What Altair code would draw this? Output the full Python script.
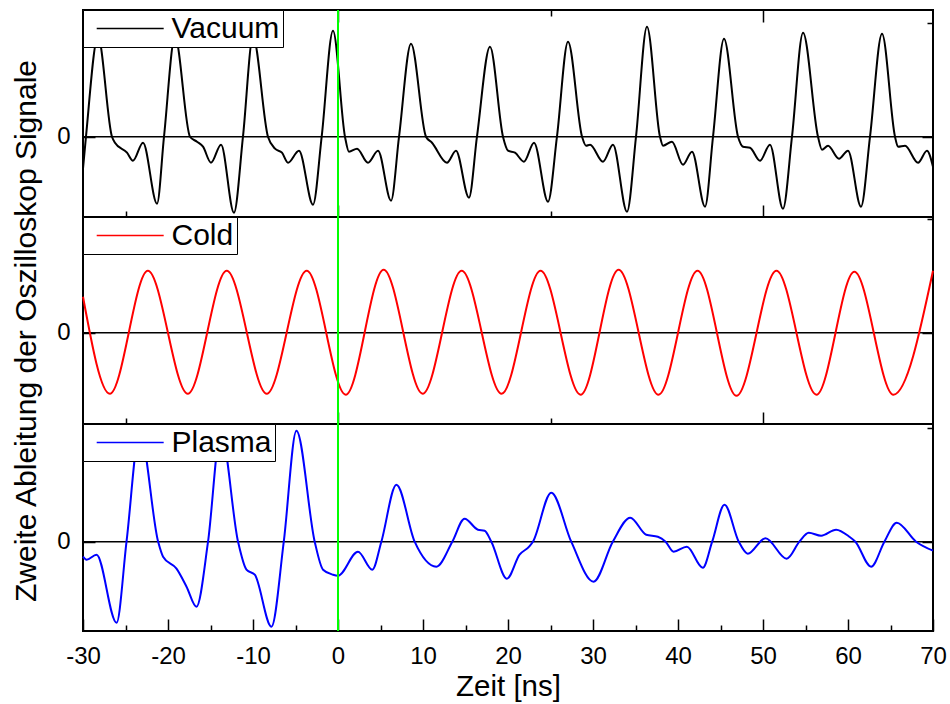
import altair as alt
import pandas as pd

FONT = "Liberation Sans"

# ---------------- data (time in ns, second derivative in arbitrary units) ----------------
VAC_T = [-30.0, -29.65, -28.24, -26.59, -26.24, -24.82, -24.12, -22.94, -21.29,
         -20.47, -19.18, -17.41, -16.59, -15.88, -14.94, -13.76, -12.24,
         -11.18, -10.0, -8.24, -7.41, -6.59, -5.88, -4.59, -2.94,
         -1.92, -0.59, 0.82, 1.29, 2.24, 3.53, 4.71, 6.24,
         7.18, 8.59, 10.35, 11.06, 12.82, 13.88, 15.41,
         16.35, 17.88, 19.41, 20.0, 20.82, 21.88, 23.06, 24.71,
         25.76, 27.06, 28.71, 29.18, 29.65, 31.18, 32.35, 34.0,
         35.06, 36.35, 37.88, 38.24, 39.29, 40.59, 41.65, 43.18,
         44.12, 45.41, 47.06, 47.65, 48.47, 49.65, 50.82, 52.35,
         53.41, 54.71, 56.47, 56.94, 57.65, 58.94, 60.0, 61.53,
         62.59, 64.0, 65.53, 65.88, 66.71, 68.24, 69.29, 70.0]
VAC_V = [-32, 0, 100, 0, -6, -16, -24, -6, -67,
         0, 100, 0, -5, -10, -26, -8, -76,
         0, 100, 0, -12, -16, -26, -14, -68,
         0, 106, 0, -15, -12, -26, -14, -64,
         0, 93, 0, -6, -26, -14, -61,
         0, 90, 0, -14, -16, -25, -6, -65,
         0, 95, 0, -9, -8, -25, -8, -75,
         0, 110, 0, -9, -5, -28, -15, -70,
         0, 98, 0, -10, -11, -24, -8, -72,
         0, 104, 0, -13, -9, -22, -14, -70,
         0, 103, 0, -10, -9, -26, -14, -30]

# Cold: start value and the successive troughs / crests
COLD_T = [-30.0, -26.84, -22.37, -17.67, -13.09, -8.38, -3.68, 0.91, 5.37,
          9.96, 14.55, 19.25, 23.83, 28.54, 33.01, 37.71, 42.30, 46.88,
          51.58, 56.29, 60.75, 65.34, 70.0]
COLD_V = [36, -61, 62, -61, 62, -61, 62, -62, 63,
          -61, 62, -61, 62, -62, 63, -62, 62, -63,
          62, -62, 61, -62, 62]

PLAS_T = [-30.0, -29.58, -28.41, -26.05, -24.88, -23.32, -21.16, -20.58, -19.0,
          -17.82, -16.65, -15.29, -13.79, -11.76, -10.77, -9.79, -7.83, -6.38,
          -4.89, -2.74, -1.76, -0.59, 0.0, 2.35, 4.04, 5.10, 6.87, 9.02, 11.57,
          13.45, 14.89, 16.46, 17.25, 18.04, 19.87, 21.36, 22.54, 22.93, 25.09,
          27.44, 30.06, 32.33, 34.38, 36.26, 37.63, 38.54, 39.48, 41.04, 42.92,
          44.02, 45.47, 47.15, 48.21, 50.29, 52.79, 54.28, 55.38, 56.84, 58.60,
          60.16, 60.87, 62.72, 64.28, 65.73, 68.01, 70.0]
PLAS_V = [-15, -18, -13, -81, 0, 110, 0, -15, -27,
          -45, -65, 0, 110, 0, -28, -33, -85, 0,
          111, 0, -28, -33, -34, -10, -28, 0, 57, 0, -25,
          0, 23, 12, 11, 0, -37, -13, -4.5, 0, 49,
          0, -40, 0, 24, 7, 5, 0, -10, -5, -26,
          0, 37, 0, -12, 3.5, -17, 0, 9, 6, 12,
          5, 0, -25, 0, 19, 0, -9]

SERIES = ["Vacuum", "Cold", "Plasma"]
COLORS = ["#000000", "#ff0000", "#0000ff"]
X_TICKS = list(range(-30, 71, 5))
EDGE_TICKS = [-25, 0, 25, 50]

# ---------------- stacked-panel layout (units measured up from the bottom) ----------------
TOTAL = 621
SEPARATORS = [207, 414]
BASE = {"Plasma": 89.3, "Cold": 298.3, "Vacuum": 494.3}
MINOR_UP = 114
Y_TICKS = sorted(list(BASE.values()) + [b + MINOR_UP for b in BASE.values()])

xs = alt.Scale(domain=[-30, 70], nice=False, zero=False)
ys = alt.Scale(domain=[0, TOTAL], nice=False, zero=False)

major10 = "abs(datum.value) % 10 == 0"
major50 = "abs(datum.value) % 50 == 0"
zero_test = " || ".join(f"abs(datum.value - {b}) < 0.5" for b in BASE.values())

common = dict(domain=False, grid=False, tickColor="black", tickWidth=1.5)


def inward(test, major, minor):
    # negative tick length -> ticks point into the plot
    return alt.ExprRef(f"({test}) ? {-major} : {-minor}")


def x_edge_axis(orient, offset):
    return alt.Axis(orient=orient, offset=offset, values=EDGE_TICKS, labels=False,
                    title=None, tickSize=inward(major50, 12, 6), **common)


x_bottom = alt.Axis(orient="bottom", values=X_TICKS, labelPadding=25,
                    tickSize=inward(major10, 12, 6),
                    labelExpr=f"{major10} ? '' + datum.value : ''",
                    labelFontSize=24, labelFont=FONT, labelColor="black",
                    labelOverlap=False, labelFlush=False,
                    title="Zeit [ns]", titleFontSize=29.5, titleFont=FONT,
                    titleFontWeight="normal", titleColor="black",
                    titleBaseline="alphabetic", titleY=64, **common)

y_left = alt.Axis(orient="left", values=Y_TICKS, labelPadding=25,
                  tickSize=inward(zero_test, 12, 6),
                  labelExpr=f"({zero_test}) ? '0' : ''",
                  labelFontSize=24, labelFont=FONT, labelColor="black",
                  labelOverlap=False, labelFlush=False,
                  title="Zweite Ableitung der Oszilloskop Signale",
                  titleFontSize=30, titleFont=FONT, titleFontWeight="normal",
                  titleColor="black", titleAngle=270, titleBaseline="alphabetic",
                  titleAlign="center", titleX=-47.5, titleY=320.5, **common)

y_right = alt.Axis(orient="right", values=Y_TICKS, labels=False, title=None,
                   tickSize=inward(zero_test, 11, 6), **common)


def legend(y):
    return alt.Legend(orient="none", legendX=0, legendY=y, title=None,
                      symbolType="M-2.31,0H2.31", symbolSize=841, symbolStrokeWidth=1.5,
                      symbolOffset=28.7, labelOffset=25.8, labelFontSize=30,
                      labelFont=FONT, labelColor="black",
                      labelExpr="datum.label + '\u00a0'",
                      padding=3, strokeColor="black", fillColor="white", zindex=1)


def series_df(name, t, v):
    return pd.DataFrame({"t": t, "y": [BASE[name] + val for val in v], "series": name})


def line_layer(name, color, t, v, xaxis, yaxis, ly):
    return alt.Chart(series_df(name, t, v)).mark_line(
        interpolate="monotone", strokeWidth=2).encode(
        x=alt.X("t:Q", scale=xs, axis=xaxis),
        y=alt.Y("y:Q", scale=ys, axis=yaxis),
        color=alt.Color("series:N", scale=alt.Scale(domain=[name], range=[color]),
                        legend=legend(ly)),
    )


sep = alt.Chart(pd.DataFrame({"y": SEPARATORS})).mark_rule(
    color="black", strokeWidth=2).encode(y=alt.Y("y:Q", scale=ys, axis=None))

zero = alt.Chart(pd.DataFrame({"y": list(BASE.values())})).mark_rule(
    color="black", strokeWidth=1.5).encode(y=alt.Y("y:Q", scale=ys, axis=y_right))

vac = line_layer("Vacuum", COLORS[0], VAC_T, VAC_V, x_bottom, y_left, 0)
cold = line_layer("Cold", COLORS[1], COLD_T, COLD_V,
                  x_edge_axis("bottom", -(TOTAL - SEPARATORS[0])), None, 207)
plas = line_layer("Plasma", COLORS[2], PLAS_T, PLAS_V,
                  x_edge_axis("bottom", -(TOTAL - SEPARATORS[1])), None, 414)

green = alt.Chart(pd.DataFrame({"t": [0]})).mark_rule(
    color="#00ff00", strokeWidth=2).encode(
    x=alt.X("t:Q", scale=xs, axis=x_edge_axis("top", 0)))

chart = alt.layer(sep, zero, vac, cold, plas, green).resolve_scale(
    color="independent").resolve_axis(x="independent", y="independent").properties(
    width=850, height=TOTAL,
    autosize=alt.AutoSizeParams(type="none"),
    padding={"left": 83, "top": 10, "right": 17, "bottom": 73},
    background="white",
).configure(font=FONT).configure_view(stroke="black", strokeWidth=2)

chart.save("out.html", embed_options={"renderer": "svg", "actions": False})
